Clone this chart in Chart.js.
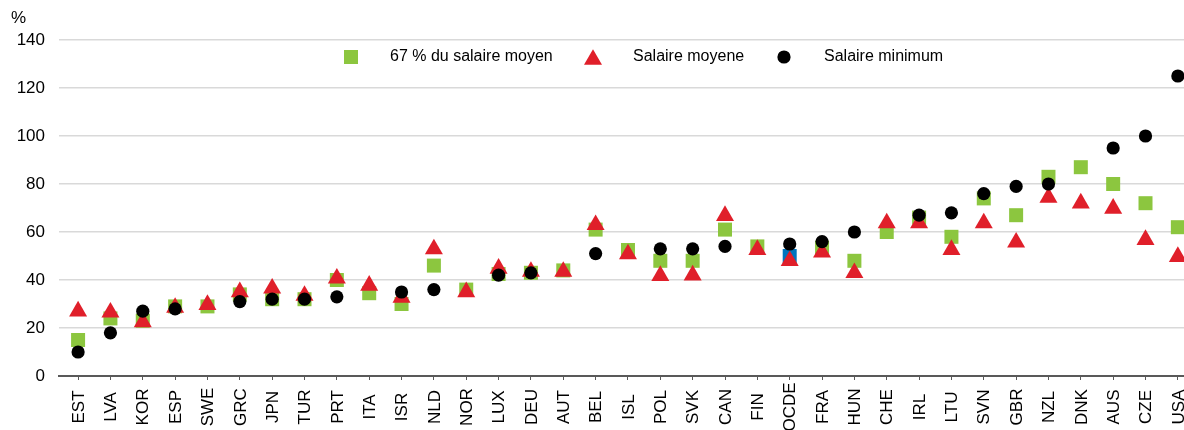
<!DOCTYPE html>
<html>
<head>
<meta charset="utf-8">
<script src="https://cdn.jsdelivr.net/npm/chart.js@4/dist/chart.umd.min.js"></script>
<style>
  html, body { margin: 0; padding: 0; background: #fff; overflow: hidden; }
  #wrap { width: 1184px; height: 430px; position: relative; }
  canvas { display: block; }
</style>
</head>
<body>
<div id="wrap"><canvas id="chart"></canvas></div>
<script>
/////////////////////
//      Data       //
/////////////////////
const countries = ['EST', 'LVA', 'KOR', 'ESP', 'SWE', 'GRC', 'JPN', 'TUR', 'PRT', 'ITA',
  'ISR', 'NLD', 'NOR', 'LUX', 'DEU', 'AUT', 'BEL', 'ISL', 'POL', 'SVK', 'CAN', 'FIN',
  'OCDE', 'FRA', 'HUN', 'CHE', 'IRL', 'LTU', 'SVN', 'GBR', 'NZL', 'DNK', 'AUS', 'CZE', 'USA'];

// 67 % du salaire moyen
const twoThirdsAvg = [15, 24, 23, 29, 29, 34, 32, 32, 40, 34.5,
  30, 46, 36, 42.5, 43, 44, 61, 52.5, 48, 48, 61, 54,
  50, 53.5, 48, 60, 66, 58, 74, 67, 83, 87, 80, 72, 62];

// Salaire moyene
const avgWage = [27, 26.5, 22.5, 28.5, 29.7, 35, 36.5, 33.5, 40.7, 37.7,
  32.7, 52.9, 35, 44.8, 43.5, 43.5, 63, 50.8, 41.8, 42, 66.8, 52.6,
  48, 51.5, 43, 63.7, 63.7, 52.6, 63.7, 55.7, 74.4, 72, 69.8, 56.8, 49.7];

// Salaire minimum
const minWage = [10, 18, 27, 28, null, 31, 32, 32, 33, null,
  35, 36, null, 42, 43, null, 51, null, 53, 53, 54, null,
  55, 56, 60, null, 67, 68, 76, 79, 80, null, 95, 100, 125];

const yTicks = [0, 20, 40, 60, 80, 100, 120, 140];

/////////////////////
//    Constants    //
/////////////////////
const GREEN = '#8cc63f';
const RED = '#e01f2a';
const BLACK = '#000000';
const BLUE = '#0075be';
const FONT = '"Liberation Sans", Arial, sans-serif';
const LABEL_CENTER_Y = 407;   // rotated country labels are centred on this line
// x range in category units: the source crops the last category at the right edge
const X_MIN = -0.59;
const X_MAX = 34.19;

const squareColors = countries.map((c) => (c === 'OCDE' ? BLUE : GREEN));

const SERIES = [
  { label: '67 % du salaire moyen', style: 'rect', radius: 9.9, color: GREEN, x: 351, textX: 390 },
  { label: 'Salaire moyene', style: 'triangle', radius: 10.4, color: RED, x: 593, textX: 633 },
  { label: 'Salaire minimum', style: 'circle', radius: 6.6, color: BLACK, x: 784, textX: 824 }
];

// Legend inside the plot, "%" unit label, centred rotated category labels
const decorations = {
  id: 'decorations',
  afterDraw(chart) {
    const ctx = chart.ctx;
    ctx.save();
    ctx.fillStyle = '#000';
    ctx.font = `17px ${FONT}`;
    ctx.textBaseline = 'middle';
    ctx.textAlign = 'left';
    ctx.fillText('%', 11, 18);

    // Category labels (Chart.js only right-aligns rotated ticks)
    const xScale = chart.scales.x;
    ctx.textAlign = 'center';
    countries.forEach((name, i) => {
      ctx.save();
      ctx.translate(xScale.getPixelForValue(i), LABEL_CENTER_Y);
      ctx.rotate(-Math.PI / 2);
      ctx.fillText(name, 0, 1);
      ctx.restore();
    });

    ctx.font = `16px ${FONT}`;
    ctx.textAlign = 'left';
    const y = 57;
    for (const s of SERIES) {
      ctx.fillStyle = s.color;
      ctx.strokeStyle = s.color;
      ctx.lineWidth = 0;
      const yy = s.style === 'triangle' ? y + 2.6 : y;
      Chart.helpers.drawPoint(ctx, { pointStyle: s.style, radius: s.radius, rotation: 0, borderWidth: 0 }, s.x, yy);
      ctx.fillStyle = '#000';
      ctx.fillText(s.label, s.textX, y);
    }
    ctx.restore();
  }
};

const toPoints = (values) => values.map((v, i) => ({ x: i, y: v }));

const pointSet = (label, data, style, radius, color, order) => ({
  label,
  data: toPoints(data),
  showLine: false,
  clip: false,
  pointStyle: style,
  pointRadius: radius,
  pointHoverRadius: radius,
  pointBackgroundColor: color,
  pointBorderColor: color,
  pointBorderWidth: 0,
  order
});

new Chart(document.getElementById('chart'), {
  type: 'line',
  data: {
    datasets: [
      pointSet(SERIES[0].label, twoThirdsAvg, 'rect', 9.9, squareColors, 3),
      pointSet(SERIES[1].label, avgWage, 'triangle', 10.4, RED, 2),
      pointSet(SERIES[2].label, minWage, 'circle', 6.6, BLACK, 1)
    ]
  },
  options: {
    responsive: true,
    maintainAspectRatio: false,
    animation: false,
    layout: { autoPadding: false, padding: { top: 40, right: 0, bottom: 0, left: 0 } },
    plugins: {
      legend: { display: false },
      tooltip: { enabled: false }
    },
    scales: {
      x: {
        type: 'linear',
        min: X_MIN,
        max: X_MAX,
        afterFit: (scale) => { scale.height = 54; },
        afterBuildTicks: (scale) => { scale.ticks = countries.map((c, i) => ({ value: i })); },
        grid: {
          drawOnChartArea: false,
          drawTicks: true,
          tickLength: 4,
          color: '#595959'
        },
        border: { display: true, color: '#595959', width: 2 },
        ticks: { display: false }
      },
      y: {
        min: 0,
        max: 140,
        afterFit: (scale) => { scale.width = 59; },
        afterBuildTicks: (scale) => { scale.ticks = yTicks.map((v) => ({ value: v })); },
        grid: {
          drawTicks: false,
          lineWidth: 1.5,
          color: (ctx) => (ctx.tick && ctx.tick.value === 0 ? 'rgba(0,0,0,0)' : '#d9d9d9')
        },
        border: { display: false },
        ticks: {
          padding: 14,
          color: '#000',
          font: { family: FONT, size: 17 }
        }
      }
    }
  },
  plugins: [decorations]
});
</script>
</body>
</html>
